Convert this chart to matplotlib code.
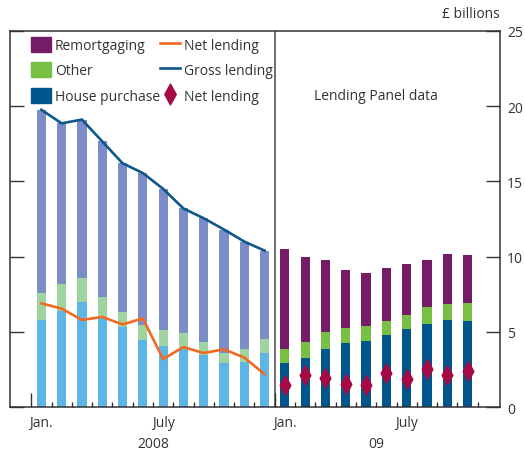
import matplotlib
matplotlib.use("Agg")
import matplotlib.pyplot as plt
import numpy as np
from matplotlib.patches import Patch
from matplotlib.lines import Line2D
from matplotlib.path import Path
from matplotlib.markers import MarkerStyle
import matplotlib.transforms as mtransforms

plt.rcParams['font.family'] = ['Open Sans', 'DejaVu Sans']

# ---- Data (£ billions) ----
months_2008 = ["Jan", "Feb", "Mar", "Apr", "May", "Jun",
               "Jul", "Aug", "Sep", "Oct", "Nov", "Dec"]
months_2009 = ["Jan", "Feb", "Mar", "Apr", "May", "Jun",
               "Jul", "Aug", "Sep", "Oct"]

# 2008: house purchase, other, remortgaging (gross lending = total)
house_2008 = [5.8, 6.4, 7.0, 5.9, 5.3, 4.5, 4.1, 3.9, 3.5, 2.95, 3.0, 3.6]
other_2008 = [1.8, 1.8, 1.6, 1.45, 1.0, 0.95, 1.05, 1.05, 0.85, 0.65, 0.9, 0.95]
remort_2008 = [12.15, 10.65, 10.5, 10.3, 9.9, 10.1, 9.35, 8.25, 8.2, 8.2, 7.1, 5.85]
gross_2008 = [19.75, 18.85, 19.1, 17.65, 16.2, 15.55, 14.5, 13.2, 12.55, 11.8, 11.0, 10.4]
net_2008 = [6.9, 6.55, 5.8, 6.0, 5.5, 5.9, 3.2, 4.0, 3.6, 3.85, 3.3, 2.2]

# 2009 Lending Panel data
house_2009 = [2.95, 3.3, 3.9, 4.25, 4.4, 4.8, 5.2, 5.5, 5.8, 5.75]
other_2009 = [0.9, 1.05, 1.1, 1.0, 1.0, 0.95, 0.9, 1.15, 1.05, 1.2]
remort_2009 = [6.65, 5.6, 4.75, 3.85, 3.5, 3.5, 3.4, 3.15, 3.3, 3.15]
net_2009 = [1.45, 2.15, 1.95, 1.55, 1.45, 2.25, 1.85, 2.55, 2.15, 2.4]

ytick_values = [0, 5, 10, 15, 20, 25]

# ---- Colours ----
c_house_l, c_other_l, c_rem_l = "#5db5e6", "#9fd4a0", "#7b8dc8"
c_house_d, c_other_d, c_rem_d = "#00568c", "#77c043", "#741c66"
c_net, c_gross, c_diamond = "#f26a21", "#0d5889", "#a50a45"
text_c = "#333333"
fs = 10

fig = plt.figure(figsize=(5.25, 4.52), dpi=100)
ax = fig.add_axes([9.5 / 525, 1 - 408.3 / 452, (500 - 9.5) / 525, (408.3 - 31.7) / 452])

x08 = np.arange(len(months_2008))
x09 = np.arange(len(months_2009)) + len(months_2008)
w = 0.45

h08 = np.array(house_2008)
o08 = np.array(other_2008)
r08 = np.array(remort_2008)
ax.bar(x08, h08, w, color=c_house_l, zorder=2)
ax.bar(x08, o08, w, bottom=h08, color=c_other_l, zorder=2)
ax.bar(x08, r08, w, bottom=h08 + o08, color=c_rem_l, zorder=2)

h09 = np.array(house_2009)
o09 = np.array(other_2009)
r09 = np.array(remort_2009)
ax.bar(x09, h09, w, color=c_house_d, zorder=2)
ax.bar(x09, o09, w, bottom=h09, color=c_other_d, zorder=2)
ax.bar(x09, r09, w, bottom=h09 + o09, color=c_rem_d, zorder=2)

ax.plot(x08, gross_2008, color=c_gross, lw=1.9, zorder=3, solid_joinstyle="round")
ax.plot(x08, net_2008, color=c_net, lw=1.9, zorder=3, solid_joinstyle="round")

diamond = MarkerStyle(Path([(0, 1), (0.55, 0), (0, -1), (-0.55, 0), (0, 1)],
                           [Path.MOVETO, Path.LINETO, Path.LINETO, Path.LINETO, Path.CLOSEPOLY]))
ax.plot(x09, net_2009, ls="none", marker=diamond, ms=14, color=c_diamond,
        mec=c_diamond, zorder=4)

# separator between the two data sources
ax.axvline(11.5, color="#555555", lw=1.2, zorder=1)

ax.set_xlim(-1.57, 22.6)
ax.set_ylim(0, 25)

# axis frame
for s in ax.spines.values():
    s.set_color(text_c)
    s.set_linewidth(1.1)

# y axis: labels on the right, inward ticks both sides
ax.set_yticks(ytick_values)
ax.yaxis.tick_right()
ax.tick_params(axis="y", which="major", direction="in", length=10, width=1.0,
               left=True, right=True, labelleft=False, labelright=True,
               labelsize=fs, labelcolor=text_c, color=text_c, pad=5)

# x axis: month boundary ticks, longer at year start
ax.set_xticks([-0.5, 11.5])
ax.set_xticks([i - 0.5 for i in range(1, 23) if i != 12], minor=True)
ax.tick_params(axis="x", which="major", direction="in", length=10, width=1.0,
               color=text_c, labelbottom=False)
ax.tick_params(axis="x", which="minor", direction="in", length=3.5, width=1.0,
               color=text_c)

trans = mtransforms.blended_transform_factory(ax.transData, ax.transAxes)
month_labels = [(0, "Jan."), (6, "July"), (12, "Jan."), (18, "July")]
for xv, lab in month_labels:
    ax.text(xv, -0.04, lab, transform=trans, ha="center", va="center",
            fontsize=fs, color=text_c)
for xv, lab in [(5.5, "2008"), (16.5, "09")]:
    ax.text(xv, -0.097, lab, transform=trans, ha="center", va="center",
            fontsize=fs, color=text_c)

ax.text(16.5, 20.7, "Lending Panel data", ha="center", va="center",
        fontsize=fs, color=text_c)
ax.text(1.0, 1.045, "£ billions", transform=ax.transAxes, ha="right",
        va="center", fontsize=fs, color=text_c)

handles = [
    Patch(color=c_rem_d, label="Remortgaging"),
    Patch(color=c_other_d, label="Other"),
    Patch(color=c_house_d, label="House purchase"),
    Line2D([], [], color=c_net, lw=1.9, label="Net lending"),
    Line2D([], [], color=c_gross, lw=1.9, label="Gross lending"),
    Line2D([], [], ls="none", marker=diamond, ms=15, color=c_diamond, label="Net lending"),
]
leg = ax.legend(handles=handles, ncol=2, loc="upper left",
                bbox_to_anchor=(0.035, 0.995), frameon=False, fontsize=fs,
                handlelength=1.42, handleheight=1.3, handletextpad=0.3,
                labelspacing=0.66, columnspacing=0.0, borderaxespad=0.2,
                borderpad=0.1)
for t in leg.get_texts():
    t.set_color(text_c)

fig.savefig("out.png", dpi=100)
